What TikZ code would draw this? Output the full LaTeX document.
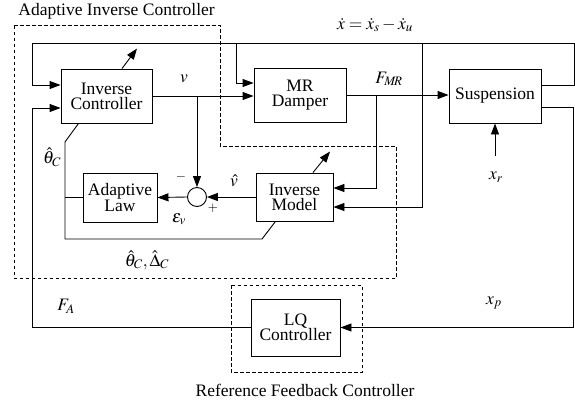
\documentclass[tikz,border=0pt]{standalone}
\usepackage{mathptmx}
\usepackage[no-math]{fontspec}
\setmainfont{Liberation Serif}
\usepackage{tikz}
\usetikzlibrary{arrows.meta,positioning,calc}

\begin{document}
\begin{tikzpicture}[x=1pt,y=-1pt,line width=0.9pt,
    font=\rmfamily\fontsize{17.5}{15}\selectfont,
    blk/.style={draw,align=center,inner sep=0pt},
    sumc/.style={draw,circle,minimum size=19pt,inner sep=0pt},
    arr/.style={-{Triangle[length=11pt,width=8pt]}},
    grp/.style={dash pattern=on 3.5pt off 2.5pt}]
    \useasboundingbox (0,0) rectangle (575,405);
    % blocks
    \node[blk,minimum width=91pt,minimum height=54pt] (ic) at (106.5,96) {Inverse\\Controller};
    \node[blk,minimum width=92pt,minimum height=54pt] (mr) at (300,95) {MR\\Damper};
    \node[blk,minimum width=92pt,minimum height=54pt] (sus) at (495,96) {Suspension};
    \node[blk,minimum width=74pt,minimum height=49pt] (al) at (120,197.5) {Adaptive\\Law};
    \node[blk,minimum width=77pt,minimum height=48pt] (im) at (294.5,197) {Inverse\\Model};
    \node[blk,minimum width=89pt,minimum height=57pt] (lq) at (295.5,327.5) {LQ\\Controller};
    \node[sumc] (sum) at (197,197) {};
    % corners
    \coordinate (tl) at (32,43);
    \coordinate (tr) at (574,43);
    \coordinate (br) at (573,327.5);
    \coordinate (bl) at (32,327.5);
    \coordinate (b1) at (236,43);
    \coordinate (b2) at (422,43);
    \coordinate (b3) at (376,96);
    \coordinate (th1) at (65,142);
    \coordinate (th2) at (65,239);
    \coordinate (th3) at (262,239);
    \coordinate (xrin) at (495,156);
    % dashed groups
    \draw[grp] (14,25) -- (220,25) -- (220,146) -- (396,146) -- (396,278) -- (14,278) -- cycle;
    \draw[grp] (231,285) rectangle (362,372);
    \node[anchor=west,inner sep=0pt] (aic) at (18,11.5) {Adaptive Inverse Controller};
    \node (rfc) at (305,390) {Reference Feedback Controller};
    % signals
    \draw[arr] ([yshift=11pt]sus.east) -| (tr) -- (tl) |- ([yshift=11pt]ic.west);
    \draw[arr] (b1) |- ([yshift=12pt]mr.west);
    \draw[arr] (b2) |- ([yshift=-10pt]im.east);
    \draw[arr] ([yshift=-11pt]sus.east) -| (br) -- (lq.east);
    \draw[arr] (lq.west) -- (bl) |- ([yshift=-12pt]ic.west);
    \draw[arr] (ic.east) -- (ic.east -| mr.west);
    \draw[arr] (sum |- ic.east) -- (sum.north);
    \draw[arr] (mr.east) -- (mr.east -| sus.west);
    \draw[arr] (b3) |- ([yshift=9pt]im.east);
    \draw[arr] (im.west) -- (sum.east);
    \draw[arr] (sum.west) -- (al.east);
    \draw ([xshift=-28pt]ic.south) -- (th1) -- (th2) -- (th3) -- ([xshift=-19pt]im.south);
    \draw (al.west) -- (al.west -| th1);
    \draw[arr] ([xshift=15.5pt]ic.north) -- ++(15,-20);
    \draw[arr] ([xshift=18.5pt]im.north) -- ++(17,-21);
    \draw[arr] (xrin) -- (sus.south);
    % labels
    \node (xdot) at (375,25) {$\dot{x}=\dot{x}_s-\dot{x}_u$};
    \node (lv) at (184,79) {$v$};
    \node (lfmr) at (389,79) {$F_{M\!R}$};
    \node (lxr) at (496,177) {$x_r$};
    \node (lxp) at (494,303) {$x_p$};
    \node (lfa) at (66,306) {$F_A$};
    \node (lth) at (52,157) {$\hat{\theta}_C$};
    \node (lthd) at (147,260) {$\hat{\theta}_C,\hat{\Delta}_C$};
    \node (lev) at (179,219) {$\varepsilon_v$};
    \node (lvh) at (234,181) {$\hat{v}$};
    \node[font=\fontsize{13}{13}\selectfont] (lm) at (181,177) {$-$};
    \node[font=\fontsize{13}{13}\selectfont] (lp) at (213,208) {$+$};
\end{tikzpicture}
\end{document}
